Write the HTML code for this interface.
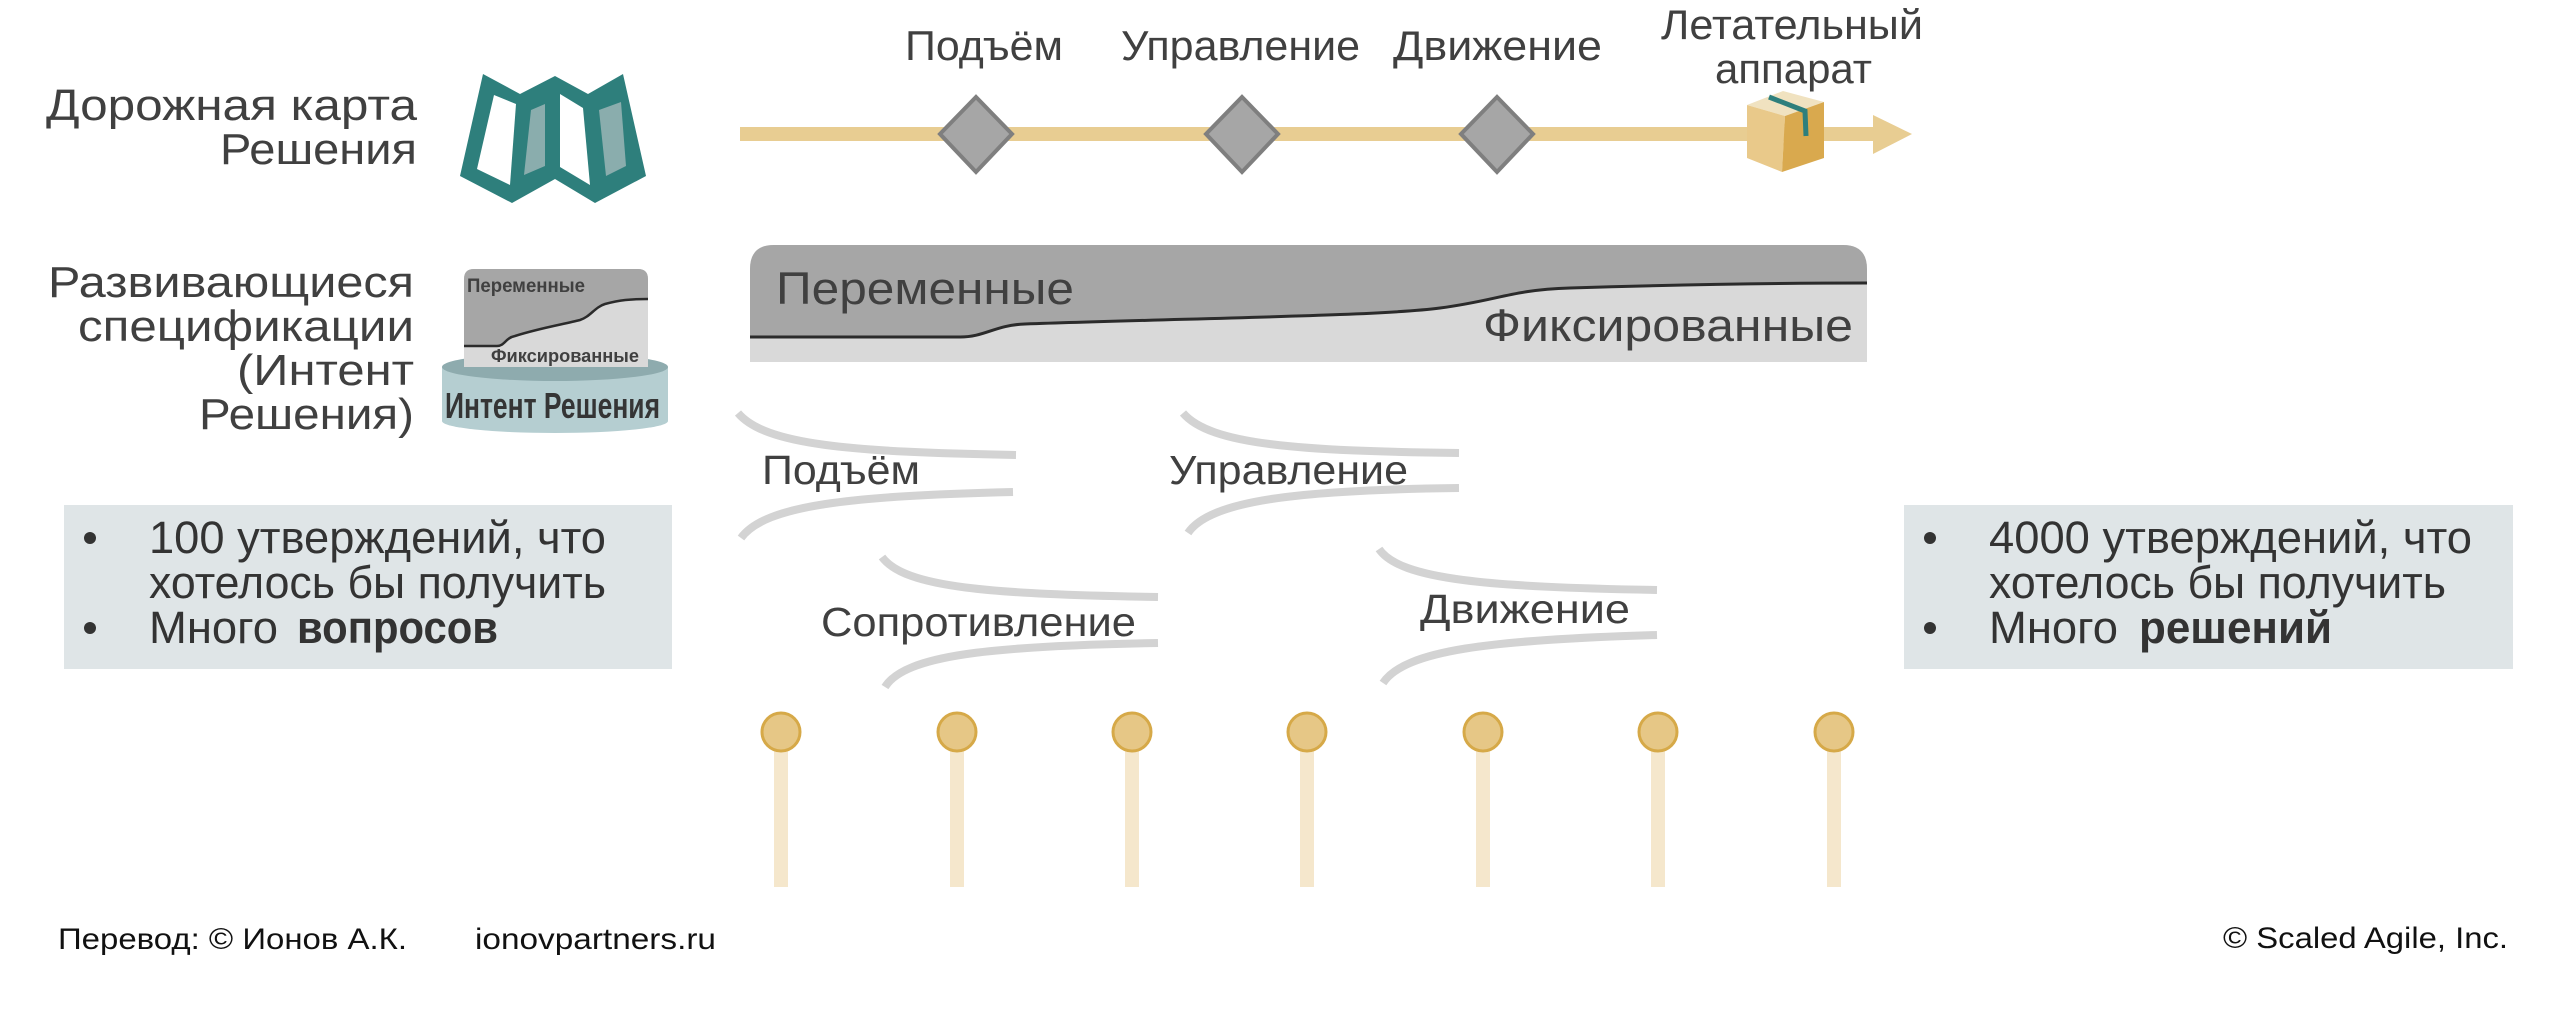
<!DOCTYPE html>
<html>
<head>
<meta charset="utf-8">
<style>
html,body{margin:0;padding:0;background:#fff;}
svg{display:block;}
text{font-family:"Liberation Sans","Noto Sans CJK SC",sans-serif;}
</style>
</head>
<body>
<svg width="2560" height="1024" viewBox="0 0 2560 1024" xmlns="http://www.w3.org/2000/svg">
<rect width="2560" height="1024" fill="#ffffff"/>

<!-- Left labels -->
<g fill="#404040" font-size="44" text-anchor="start">
  <text x="46" y="120" textLength="371" lengthAdjust="spacingAndGlyphs">Дорожная карта</text>
  <text x="220" y="164" textLength="197" lengthAdjust="spacingAndGlyphs">Решения</text>
  <text x="48" y="297" textLength="366" lengthAdjust="spacingAndGlyphs">Развивающиеся</text>
  <text x="78" y="341" textLength="336" lengthAdjust="spacingAndGlyphs">спецификации</text>
  <text x="237" y="385" textLength="177" lengthAdjust="spacingAndGlyphs">(Интент</text>
  <text x="199" y="429" textLength="215" lengthAdjust="spacingAndGlyphs">Решения)</text>
</g>

<!-- Map icon -->
<polygon points="483,74 520,94 555,76 588,94 623,74 646,176 595,203 555,179 512,203 460,176" fill="#2e7f7c"/>
<polygon points="494,95 516,104 510,185 477,169" fill="#ffffff"/>
<polygon points="531,110 545,104 545,166 524,175" fill="#8aadad"/>
<polygon points="560,94 583,108 590,185 560,167" fill="#ffffff"/>
<polygon points="599,110 621,102 626,166 606,176" fill="#8aadad"/>

<!-- Spec icon: cylinder -->
<rect x="442" y="367" width="226" height="54" fill="#b5ced1"/>
<ellipse cx="555" cy="421" rx="113" ry="12" fill="#b5ced1"/>
<ellipse cx="555" cy="367" rx="113" ry="14" fill="#8eabae"/>
<!-- Spec icon: box -->
<path d="M464,279 Q464,269 474,269 L638,269 Q648,269 648,279 L648,367 L464,367 Z" fill="#d9d9d9"/>
<path d="M464,279 Q464,269 474,269 L638,269 Q648,269 648,279 L648,299 C630,299 620,300 605,304 C595,307 590,317 580,320 C565,324 540,328 515,336 C505,338 505,346 497,346 L464,346 Z" fill="#a6a6a6"/>
<path d="M464,346 L497,346 C505,346 505,338 515,336 C540,328 565,324 580,320 C590,317 595,307 605,304 C620,300 630,299 648,299" fill="none" stroke="#2b2b2b" stroke-width="2.5"/>
<text x="467" y="292" font-size="19" font-weight="bold" fill="#404040" textLength="118" lengthAdjust="spacingAndGlyphs">Переменные</text>
<text x="491" y="362" font-size="18" font-weight="bold" fill="#404040" textLength="148" lengthAdjust="spacingAndGlyphs">Фиксированные</text>
<text x="445" y="418" font-size="36" font-weight="bold" fill="#353535" textLength="215" lengthAdjust="spacingAndGlyphs">Интент Решения</text>

<!-- Top arrow -->
<rect x="740" y="127" width="1135" height="14" fill="#e8cd92"/>
<polygon points="1873,115 1912,134 1873,154" fill="#e8cd92"/>

<!-- Diamonds -->
<g fill="#a6a6a6" stroke="#7f7f7f" stroke-width="4" stroke-linejoin="miter">
  <polygon points="976,97 1012,134 976,172 940,134"/>
  <polygon points="1242,97 1278,134 1242,172 1206,134"/>
  <polygon points="1497,97 1533,134 1497,172 1461,134"/>
</g>

<!-- Package -->
<polygon points="1783,91 1824,102 1785,116 1747,105" fill="#f0e2c0"/>
<polygon points="1747,105 1785,116 1782,172 1747,158" fill="#e9c98a"/>
<polygon points="1785,116 1824,102 1824,158 1782,172" fill="#d9a94e"/>
<polyline points="1769,97 1805,111 1806,136" fill="none" stroke="#2e7f7c" stroke-width="5"/>

<!-- Top labels -->
<g fill="#404040" font-size="42">
  <text x="905" y="60" textLength="158" lengthAdjust="spacingAndGlyphs">Подъём</text>
  <text x="1121" y="60" textLength="239" lengthAdjust="spacingAndGlyphs">Управление</text>
  <text x="1393" y="60" textLength="209" lengthAdjust="spacingAndGlyphs">Движение</text>
  <text x="1661" y="39" textLength="262" lengthAdjust="spacingAndGlyphs">Летательный</text>
  <text x="1715" y="83" textLength="157" lengthAdjust="spacingAndGlyphs">аппарат</text>
</g>

<!-- Variable/Fixed chart -->
<path d="M750,269 Q750,245 774,245 L1843,245 Q1867,245 1867,269 L1867,362 L750,362 Z" fill="#d9d9d9"/>
<path d="M750,269 Q750,245 774,245 L1843,245 Q1867,245 1867,269 L1867,283 C1800,283 1700,284 1570,288 C1510,290 1500,300 1440,308 C1380,316 1200,318 1025,324 C995,325 985,337 960,337 L750,337 Z" fill="#a6a6a6"/>
<path d="M750,337 L960,337 C985,337 995,325 1025,324 C1200,318 1380,316 1440,308 C1500,300 1510,290 1570,288 C1700,284 1800,283 1867,283" fill="none" stroke="#2b2b2b" stroke-width="3"/>
<text x="776" y="304" font-size="45" fill="#404040" textLength="298" lengthAdjust="spacingAndGlyphs">Переменные</text>
<text x="1483" y="341" font-size="45" fill="#404040" textLength="370" lengthAdjust="spacingAndGlyphs">Фиксированные</text>

<!-- Flow curves -->
<g fill="none" stroke="#d3d3d3" stroke-width="8">
  <path d="M738,413 C765,445 850,452 1016,455"/>
  <path d="M741,538 C765,505 850,496 1013,492"/>
  <path d="M1183,413 C1210,445 1300,451 1459,453"/>
  <path d="M1188,533 C1210,500 1300,490 1459,488"/>
  <path d="M882,557 C905,588 990,594 1158,597"/>
  <path d="M885,687 C905,655 990,646 1158,643"/>
  <path d="M1379,549 C1400,580 1490,587 1657,590"/>
  <path d="M1383,683 C1405,650 1490,640 1657,635"/>
</g>
<g fill="#404040" font-size="41">
  <text x="762" y="484" textLength="158" lengthAdjust="spacingAndGlyphs">Подъём</text>
  <text x="1169" y="484" textLength="239" lengthAdjust="spacingAndGlyphs">Управление</text>
  <text x="821" y="636" textLength="315" lengthAdjust="spacingAndGlyphs">Сопротивление</text>
  <text x="1420" y="623" textLength="210" lengthAdjust="spacingAndGlyphs">Движение</text>
</g>

<!-- Pins -->
<g fill="#f5e7cc">
  <rect x="774" y="750" width="14" height="137"/>
  <rect x="950" y="750" width="14" height="137"/>
  <rect x="1125" y="750" width="14" height="137"/>
  <rect x="1300" y="750" width="14" height="137"/>
  <rect x="1476" y="750" width="14" height="137"/>
  <rect x="1651" y="750" width="14" height="137"/>
  <rect x="1827" y="750" width="14" height="137"/>
</g>
<g fill="#e6c786" stroke="#d6a948" stroke-width="3">
  <circle cx="781" cy="732" r="19"/>
  <circle cx="957" cy="732" r="19"/>
  <circle cx="1132" cy="732" r="19"/>
  <circle cx="1307" cy="732" r="19"/>
  <circle cx="1483" cy="732" r="19"/>
  <circle cx="1658" cy="732" r="19"/>
  <circle cx="1834" cy="732" r="19"/>
</g>

<!-- Left bullet box -->
<rect x="64" y="505" width="608" height="164" fill="#dfe5e7"/>
<circle cx="90" cy="538" r="6" fill="#333"/>
<circle cx="90" cy="628" r="6" fill="#333"/>
<g fill="#333" font-size="45">
  <text x="149" y="553" textLength="457" lengthAdjust="spacingAndGlyphs">100 утверждений, что</text>
  <text x="149" y="598" textLength="457" lengthAdjust="spacingAndGlyphs">хотелось бы получить</text>
  <text x="149" y="643" textLength="129" lengthAdjust="spacingAndGlyphs">Много</text>
  <text x="297" y="643" font-weight="bold" textLength="201" lengthAdjust="spacingAndGlyphs">вопросов</text>
</g>

<!-- Right bullet box -->
<rect x="1904" y="505" width="609" height="164" fill="#dfe5e7"/>
<circle cx="1930" cy="538" r="6" fill="#333"/>
<circle cx="1930" cy="628" r="6" fill="#333"/>
<g fill="#333" font-size="45">
  <text x="1989" y="553" textLength="483" lengthAdjust="spacingAndGlyphs">4000 утверждений, что</text>
  <text x="1989" y="598" textLength="457" lengthAdjust="spacingAndGlyphs">хотелось бы получить</text>
  <text x="1989" y="643" textLength="129" lengthAdjust="spacingAndGlyphs">Много</text>
  <text x="2139" y="643" font-weight="bold" textLength="193" lengthAdjust="spacingAndGlyphs">решений</text>
</g>

<!-- Footer -->
<g fill="#111" font-size="30">
  <text x="58" y="949" textLength="349" lengthAdjust="spacingAndGlyphs">Перевод: © Ионов А.К.</text>
  <text x="475" y="949" textLength="241" lengthAdjust="spacingAndGlyphs">ionovpartners.ru</text>
  <text x="2223" y="948" textLength="285" lengthAdjust="spacingAndGlyphs">© Scaled Agile,  Inc.</text>
</g>
</svg>
</body>
</html>
